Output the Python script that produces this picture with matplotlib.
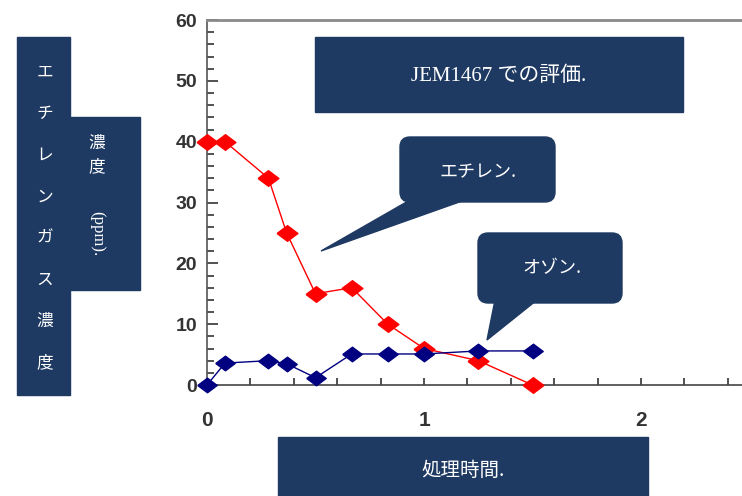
import matplotlib
matplotlib.use('Agg')
import matplotlib.pyplot as plt
from matplotlib.patches import Rectangle, FancyBboxPatch, Polygon
from matplotlib.ticker import MultipleLocator, FixedLocator
import numpy as np

plt.rcParams['font.family'] = ['Noto Sans CJK JP', 'DejaVu Sans']

# データ（処理時間 [h] とガス濃度 [ppm]）
time_h = [0, 0.083, 0.283, 0.367, 0.5, 0.667, 0.833, 1.0, 1.25, 1.5]
ethylene = [40, 40, 34, 25, 15, 16, 10, 6, 4, 0]
ozone = [0, 3.6, 4.0, 3.5, 1.2, 5.1, 5.1, 5.1, 5.6, 5.6]

x_ticks = [0, 1, 2]
y_ticks = [0, 10, 20, 30, 40, 50, 60]

title_text = 'JEM1467 での評価.'
xlabel_text = '処理時間.'
ylabel_outer = 'エチレンガス濃度'
ylabel_inner = '濃度'
ylabel_unit = '(ppm).'
callout_eth = 'エチレン.'
callout_oz = 'オゾン.'

W, H = 742, 496
box_col = '#1f3a62'

fig = plt.figure(figsize=(W / 100, H / 100), dpi=100)
fig.patch.set_facecolor('white')

# メインの軸（ピクセル位置から決める）
ax = fig.add_axes([207 / W, 111 / H, 535 / W, 365 / H])
wide_diamond = [(-1, 0), (0, 0.75), (1, 0), (0, -0.75), (-1, 0)]

ax.plot(time_h, ethylene, color='#ff0000', lw=1, marker=wide_diamond,
        ms=15, mfc='#ff0000', mec='#ff0000', zorder=3, clip_on=False)
ax.plot(time_h, ozone, color='#000080', lw=1, marker=wide_diamond,
        ms=14, mfc='#000080', mec='#000080', zorder=4, clip_on=False)

ax.set_xlim(0, 535 / 217)
ax.set_ylim(0, 60)

ax.xaxis.set_major_locator(FixedLocator(x_ticks))
ax.xaxis.set_minor_locator(MultipleLocator(0.2))
ax.yaxis.set_major_locator(FixedLocator(y_ticks))
ax.yaxis.set_minor_locator(MultipleLocator(2))

ax.tick_params(axis='y', which='major', direction='in', length=8, width=1.2,
               color='#333333', labelsize=14, labelcolor='#333333', pad=7)
ax.tick_params(axis='y', which='minor', direction='in', length=5, width=1.2,
               color='#333333')
ax.tick_params(axis='x', which='both', direction='in', length=5, width=1.2,
               color='#333333', labelsize=15, labelcolor='#333333', pad=19)
for lab in ax.get_xticklabels() + ax.get_yticklabels():
    lab.set_family(['Liberation Sans', 'DejaVu Sans'])
    lab.set_fontweight('bold')

ax.spines['right'].set_visible(False)
ax.spines['left'].set_color('#555555')
ax.spines['left'].set_linewidth(1.2)
ax.spines['bottom'].set_color('#444444')
ax.spines['bottom'].set_linewidth(1.2)
ax.spines['top'].set_color('#8a8a8a')
ax.spines['top'].set_linewidth(2)

# 図形・テキストボックス用のオーバーレイ（ピクセル座標）
ov = fig.add_axes([0, 0, 1, 1], zorder=10)
ov.set_xlim(0, W)
ov.set_ylim(H, 0)
ov.axis('off')
ov.patch.set_alpha(0)

# タイトルボックス
ov.add_patch(Rectangle((315, 37), 368, 75, color=box_col))
ov.text(499, 76, title_text, color='white', fontsize=15, ha='center', va='center',
        family=['Liberation Serif', 'Noto Sans CJK JP'])

# エチレン吹き出し
ov.add_patch(Polygon([(410, 200), (465, 200), (321, 251)], closed=True, color=box_col))
ov.add_patch(FancyBboxPatch((406, 143), 143, 53, boxstyle='round,pad=6,rounding_size=10',
                            color=box_col))
ov.text(478, 172, callout_eth, color='white', fontsize=13, ha='center', va='center')

# オゾン吹き出し
ov.add_patch(Polygon([(495, 300), (537, 300), (487, 340)], closed=True, color=box_col))
ov.add_patch(FancyBboxPatch((484, 239), 132, 58, boxstyle='round,pad=6,rounding_size=10',
                            color=box_col))
ov.text(552, 268, callout_oz, color='white', fontsize=13, ha='center', va='center')

# 縦軸ラベル（縦書き）
ov.add_patch(Rectangle((17, 37), 53, 358, color=box_col))
ov.add_patch(Rectangle((68, 117), 72, 173, color=box_col))
ys = np.linspace(72, 363, len(ylabel_outer))
for ch, yy in zip(ylabel_outer, ys):
    ov.text(45, yy, ch, color='white', fontsize=12, ha='center', va='center')
ov.text(97, 143, ylabel_inner[0], color='white', fontsize=12, ha='center', va='center')
ov.text(97, 167, ylabel_inner[1], color='white', fontsize=12, ha='center', va='center')
ov.text(97, 234, ylabel_unit, color='white', fontsize=12, ha='center', va='center',
        rotation=-90, family=['Liberation Serif', 'Noto Sans CJK JP'])

# 横軸ラベル
ov.add_patch(Rectangle((278, 437), 370, 70, color=box_col))
ov.text(463, 470, xlabel_text, color='white', fontsize=14, ha='center', va='center')

fig.savefig('out.png', dpi=100)
